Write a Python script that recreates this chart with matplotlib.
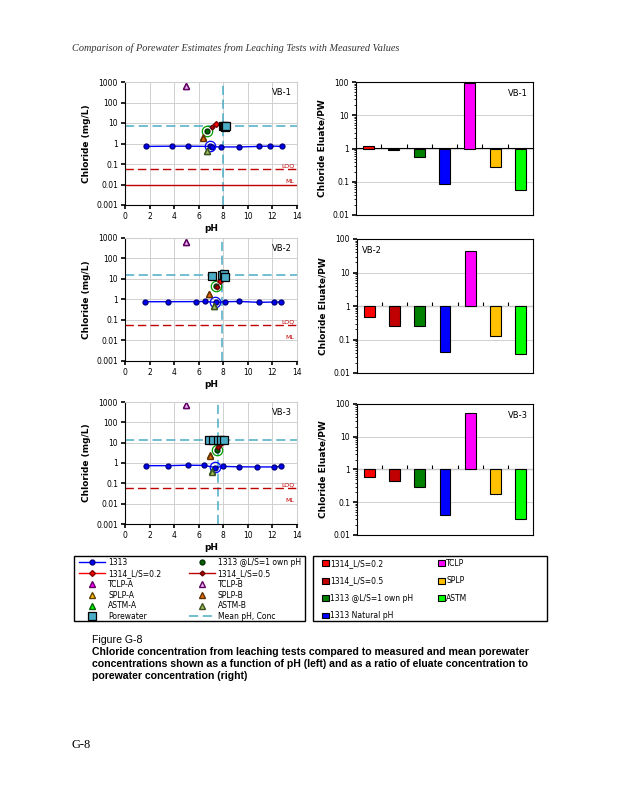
import numpy as np
import matplotlib
matplotlib.use('Agg')
import matplotlib.pyplot as plt
from matplotlib.patches import Rectangle

plt.rcParams['font.family'] = ['DejaVu Sans']

# ---- data ----
panels = ['VB-1', 'VB-2', 'VB-3']

# 1313 pH series (pH, Cl mg/L)
ph_1313 = [
    [1.7, 3.8, 5.1, 6.9, 7.1, 7.8, 9.3, 10.9, 11.8, 12.8],
    [1.65, 3.5, 5.75, 6.5, 7.4, 8.15, 9.3, 10.9, 12.1, 12.7],
    [1.7, 3.5, 5.15, 6.45, 7.35, 7.95, 9.3, 10.75, 12.1, 12.7],
]
cl_1313 = [
    [0.72, 0.74, 0.74, 0.72, 0.7, 0.68, 0.68, 0.72, 0.75, 0.72],
    [0.78, 0.78, 0.79, 0.8, 0.72, 0.78, 0.8, 0.73, 0.75, 0.75],
    [0.74, 0.74, 0.78, 0.76, 0.6, 0.68, 0.65, 0.64, 0.64, 0.68],
]
nat_ph = [6.9, 7.35, 7.3]
nat_cl = [0.72, 0.74, 0.63]
own_ph = [6.65, 7.4, 7.5]
own_cl = [4.3, 4.7, 4.4]
l02_ph = [7.4, 7.7, 7.7]
l02_cl = [9.0, 7.6, 8.2]
l05_ph = [7.1, 7.45, 7.6]
l05_cl = [6.2, 4.3, 6.0]
tclp_a = [(4.95, 630), (4.95, 640), (4.93, 690)]
tclp_b = [(4.95, 620), (4.95, 630), (4.93, 680)]
splp_a = [(6.35, 2.0), (6.85, 1.95), (6.9, 2.35)]
splp_b = [(6.35, 1.95), (6.85, 1.9), (6.9, 2.3)]
astm_a = [(6.65, 0.43), (7.25, 0.47), (7.12, 0.4)]
astm_b = [(6.65, 0.42), (7.25, 0.46), (7.05, 0.38)]
pw_ph = [
    [7.95, 8.05, 8.1, 8.2],
    [7.05, 7.9, 8.05, 8.15],
    [6.85, 7.2, 7.55, 7.85, 8.05],
]
pw_cl = [
    [6.8, 7.2, 6.5, 7.0],
    [14.8, 15.6, 17.5, 12.9],
    [13.2, 13.2, 13.4, 13.2, 13.3],
]
mean_ph = [8.0, 7.9, 7.6]
mean_cl = [6.8, 15.0, 13.0]
loq = [0.055, 0.054, 0.056]

# eluate / porewater ratios
ratio_names = ['1314_L/S=0.2', '1314_L/S=0.5', '1313 @L/S=1 own pH', '1313 Natural pH',
               'TCLP', 'SPLP', 'ASTM']
ratio_colors = ['#ff0000', '#c00000', '#008000', '#0000ff', '#ff00ff', '#ffc000', '#00ff00']
ratios = [
    [1.23, 0.93, 0.54, 0.083, 95, 0.27, 0.056],
    [0.46, 0.245, 0.26, 0.041, 43, 0.123, 0.036],
    [0.58, 0.44, 0.29, 0.040, 52, 0.18, 0.031],
]

fig = plt.figure(figsize=(6.18, 8.0), dpi=100)
W, H = 618.0, 800.0

def box(x0, y0, x1, y1):
    return [x0 / W, 1 - y1 / H, (x1 - x0) / W, (y1 - y0) / H]

left_boxes = [box(125, 82, 297, 205), box(125, 238, 297, 361), box(125, 402, 297, 524)]
right_boxes = [box(356, 82, 533, 215), box(357, 239, 533, 373), box(357, 404, 533, 535)]

tick_fs = 5.5
lab_fs = 6.5
pw_color = '#4bacc6'
handles_left = None

for i, name in enumerate(panels):
    ax = fig.add_axes(left_boxes[i])
    ax.set_yscale('log')
    ax.set_xlim(0, 14)
    ax.set_ylim(0.001, 1000)
    ax.grid(True, color='#d0d0d0', lw=0.7)
    ax.set_axisbelow(True)
    for s in ['top', 'right']:
        ax.spines[s].set_color('#d0d0d0')
    ax.set_xticks(range(0, 15, 2))
    ax.set_yticks([0.001, 0.01, 0.1, 1, 10, 100, 1000],
                  ['0.001', '0.01', '0.1', '1', '10', '100', '1000'])
    ax.minorticks_off()
    ax.tick_params(labelsize=tick_fs, length=3, width=1.2, pad=2)
    ax.set_xlabel('pH', fontsize=lab_fs, fontweight='bold', labelpad=2)
    ax.set_ylabel('Chloride (mg/L)', fontsize=lab_fs, fontweight='bold', labelpad=4)

    h = {}
    h['mean'] = ax.axhline(mean_cl[i], color=pw_color, ls=(0, (6, 3)), lw=1.1,
                           label='Mean pH, Conc')
    ax.axvline(mean_ph[i], color=pw_color, ls=(0, (6, 3)), lw=1.1)
    ax.axhline(loq[i], color='#c00000', ls=(0, (6, 3)), lw=1.0)
    ax.text(13.8, loq[i] * 1.15, 'LOQ', color='#c00000', fontsize=4.5, ha='right', va='bottom')
    if i == 0:
        ax.axhline(0.01, color='#c00000', lw=1.0)
    ax.text(13.8, 0.0105, 'ML', color='#c00000', fontsize=4.5, ha='right', va='bottom')

    h['1313'], = ax.plot(ph_1313[i], cl_1313[i], '-o', color='#0000ff', mfc='#0000ff',
                         mec='#000080', ms=3.5, lw=1.0, label='1313')
    ax.plot(nat_ph[i], nat_cl[i], 'o', mfc='none', mec='#0000ff', ms=7.5, mew=0.9)
    ax.plot(own_ph[i], own_cl[i], 'o', mfc='none', mec='#00a000', ms=7.5, mew=0.9)
    h['own'], = ax.plot(own_ph[i], own_cl[i], 'o', color='#006400', mec='#003000', ms=3.5,
                        label='1313 @L/S=1 own pH')
    h['l02'], = ax.plot(l02_ph[i], l02_cl[i], '-D', color='#ff0000', mec='#800000', ms=3,
                        lw=1.0, label='1314_L/S=0.2')
    h['l05'], = ax.plot(l05_ph[i], l05_cl[i], '-D', color='#c00000', mec='#600000', ms=2.5,
                        lw=1.0, label='1314_L/S=0.5')
    h['tca'], = ax.plot(*tclp_a[i], '^', color='#ff00ff', mec='#600060', ms=4, label='TCLP-A')
    h['tcb'], = ax.plot(*tclp_b[i], '^', color='#e6b0f0', mec='#600060', ms=4, label='TCLP-B')
    h['spa'], = ax.plot(*splp_a[i], '^', color='#ffc000', mec='#604000', ms=4, label='SPLP-A')
    h['spb'], = ax.plot(*splp_b[i], '^', color='#e46c0a', mec='#603000', ms=4, label='SPLP-B')
    h['asa'], = ax.plot(*astm_a[i], '^', color='#00ff00', mec='#006000', ms=4, label='ASTM-A')
    h['asb'], = ax.plot(*astm_b[i], '^', color='#9bbb59', mec='#405020', ms=4, label='ASTM-B')
    h['pw'], = ax.plot(pw_ph[i], pw_cl[i], 's', color=pw_color, mec='black', ms=5.5,
                       mew=0.9, label='Porewater')
    ax.text(0.97, 0.95, name, transform=ax.transAxes, ha='right', va='top', fontsize=6)
    if handles_left is None:
        handles_left = h

    # ratio bars
    bx = fig.add_axes(right_boxes[i])
    bx.set_yscale('log')
    bx.set_ylim(0.01, 100)
    xs = np.arange(len(ratio_names))
    bars = bx.bar(xs, np.array(ratios[i]) - 1, bottom=1, width=0.43, color=ratio_colors,
                  edgecolor='black', lw=0.8, label=ratio_names)
    if i == 0:
        bar_handles = bars.patches
    bx.set_xlim(-0.5, len(ratio_names) - 0.5)
    bx.set_xticks([])
    bx.grid(True, axis='y', which='major', color='#d0d0d0', lw=0.7)
    bx.set_axisbelow(True)
    bx.set_yticks([0.01, 0.1, 1, 10, 100], ['0.01', '0.1', '1', '10', '100'])
    bx.tick_params(axis='y', labelsize=tick_fs, length=3, width=1.2, pad=2)
    bx.tick_params(axis='y', which='minor', length=1.5)
    bx.set_ylabel('Chloride Eluate/PW', fontsize=lab_fs, fontweight='bold', labelpad=4)
    sec = bx.secondary_xaxis(0.5)
    bounds = np.arange(0.5, len(ratio_names) - 0.5, 1.0)
    sec.set_xticks(bounds, [''] * len(bounds))
    sec.tick_params(length=3, direction='out')
    sec.spines['bottom'].set_linewidth(1.0)
    if i == 1:
        bx.text(0.03, 0.95, name, transform=bx.transAxes, ha='left', va='top', fontsize=6)
    else:
        bx.text(0.97, 0.95, name, transform=bx.transAxes, ha='right', va='top', fontsize=6)

# legends with hand-placed frames
fig.patches.append(Rectangle((74 / W, 1 - 621 / H), 231 / W, 65 / H, transform=fig.transFigure,
                             fill=False, edgecolor='black', lw=1.0))
fig.patches.append(Rectangle((313 / W, 1 - 621 / H), 234 / W, 65 / H, transform=fig.transFigure,
                             fill=False, edgecolor='black', lw=1.0))

order = ['1313', 'l02', 'tca', 'spa', 'asa', 'pw', 'own', 'l05', 'tcb', 'spb', 'asb', 'mean']
lh = [handles_left[k] for k in order]
fig.legend(lh, [x.get_label() for x in lh], ncol=2, loc='upper left',
           bbox_to_anchor=(79 / W, 1 - 558 / H), frameon=False,
           fontsize=5.5, handlelength=3.4, handletextpad=0.4, labelspacing=0.24,
           borderpad=0, borderaxespad=0, columnspacing=3.6)
fig.legend(bar_handles, ratio_names, ncol=2, loc='upper left',
           bbox_to_anchor=(322 / W, 1 - 559 / H), frameon=False,
           fontsize=5.5, handlelength=0.9, handleheight=0.8, handletextpad=0.2,
           labelspacing=1.1, borderpad=0, borderaxespad=0, columnspacing=3.2)

# page text
fig.text(72 / W, 1 - 48 / H,
         'Comparison of Porewater Estimates from Leaching Tests with Measured Values',
         family='Liberation Serif', style='italic', fontsize=7.4, color='#333333', va='center')
fig.text(92 / W, 1 - 640 / H, 'Figure G-8', family='Liberation Sans', fontsize=7.6,
         va='center')
cap = ['Chloride concentration from leaching tests compared to measured and mean porewater',
       'concentrations shown as a function of pH (left) and as a ratio of eluate concentration to',
       'porewater concentration (right)']
for k, line in enumerate(cap):
    fig.text(92 / W, 1 - (652 + 12 * k) / H, line, family='Liberation Sans',
             fontweight='bold', fontsize=7.6, va='center')
fig.text(72 / W, 1 - 745 / H, 'G-8', family='Liberation Serif', fontsize=9, va='center')

fig.savefig('out.png', dpi=100)
